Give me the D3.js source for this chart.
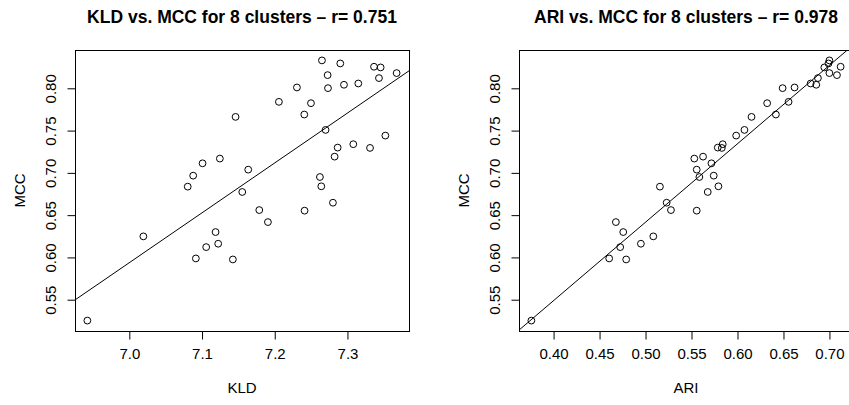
<!DOCTYPE html>
<html><head><meta charset="utf-8">
<script src="https://cdn.jsdelivr.net/npm/d3@7"></script>
<style>
html,body{margin:0;padding:0;background:#fff;}
svg{display:block;}
text{font-family:"Liberation Sans",Arial,Helvetica,sans-serif;fill:#000;}
</style></head>
<body><svg id="chart" width="849" height="405"></svg>
<script>
// MCC values (shared y variable)
const mcc = [0.5247,0.5970,0.5982,0.6116,0.6156,0.6243,0.6294,0.6412,0.6547,0.6554,0.6641,0.6768,0.6831,0.6835,0.6945,0.6961,0.7032,0.7107,0.7163,0.7186,0.7289,0.7293,0.7333,0.7435,0.7502,0.7656,0.7684,0.7818,0.7834,0.7996,0.8004,0.8036,0.8051,0.8115,0.8150,0.8174,0.8241,0.8249,0.8288,0.8324];
// KLD values
const kld = [6.943,7.1431,7.0922,7.1064,7.1229,7.020,7.1193,7.1913,7.2417,7.1794,7.2807,7.156,7.081,7.2647,7.2628,7.0885,7.1642,7.1014,7.1252,7.2830,7.3317,7.2872,7.3087,7.3528,7.2706,7.1468,7.2413,7.2505,7.2064,7.2739,7.2312,7.2959,7.3156,7.3440,7.2734,7.3683,7.3463,7.3372,7.2908,7.2656];
// ARI values
const ari = [0.3764,0.4795,0.4610,0.4730,0.4955,0.5090,0.4763,0.4683,0.5562,0.5282,0.5235,0.5682,0.5162,0.5798,0.5591,0.5747,0.5562,0.5722,0.5536,0.5631,0.5835,0.5791,0.5845,0.5991,0.6081,0.6158,0.6423,0.6328,0.6561,0.6496,0.6626,0.6862,0.6801,0.6880,0.7087,0.7005,0.6950,0.7127,0.6995,0.7005];

const kldTicks = [7.0,7.1,7.2,7.3];
const ariTicks = [0.40,0.45,0.50,0.55,0.60,0.65,0.70];
const mccTicks = [0.55,0.60,0.65,0.70,0.75,0.80];

const titles = ["KLD vs. MCC for 8 clusters \u2013 r= 0.751", "ARI vs. MCC for 8 clusters \u2013 r= 0.978"];
const xLabels = ["KLD","ARI"];
const yLabel = "MCC";

const svg = d3.select("#chart");

function rExt(arr){ const e = d3.extent(arr); const p = (e[1]-e[0])*0.04; return [e[0]-p, e[1]+p]; }
function lm(xs, ys){
  const mx = d3.mean(xs), my = d3.mean(ys);
  let sxy=0, sxx=0;
  xs.forEach((x,i)=>{ sxy += (x-mx)*(ys[i]-my); sxx += (x-mx)*(x-mx); });
  const b = sxy/sxx; return {a: my - b*mx, b};
}

const panels = [
  {xs: kld, xt: kldTicks, fmt: d3.format(".1f"), left: 75, right: 409},
  {xs: ari, xt: ariTicks, fmt: d3.format(".2f"), left: 519, right: 853}
];
const plotTop = 50, plotBottom = 331;

panels.forEach((p, k) => {
  const x = d3.scaleLinear().domain(rExt(p.xs)).range([p.left, p.right]);
  const y = d3.scaleLinear().domain(rExt(mcc)).range([plotBottom, plotTop]);
  const g = svg.append("g");
  const cid = "clip"+k;
  svg.append("clipPath").attr("id", cid).append("rect")
    .attr("x", p.left).attr("y", plotTop).attr("width", p.right-p.left).attr("height", plotBottom-plotTop);

  // regression line
  const fit = lm(p.xs, mcc);
  const xd = x.domain();
  g.append("line").attr("clip-path", `url(#${cid})`)
    .attr("x1", x(xd[0])).attr("y1", y(fit.a + fit.b*xd[0]))
    .attr("x2", x(xd[1])).attr("y2", y(fit.a + fit.b*xd[1]))
    .attr("stroke", "#000").attr("stroke-width", 1);

  // points
  g.selectAll("circle").data(p.xs).join("circle")
    .attr("cx", d => x(d)).attr("cy", (d,i) => y(mcc[i]))
    .attr("r", 3.4).attr("fill", "none").attr("stroke", "#000").attr("stroke-width", 1);

  // box
  g.append("rect").attr("x", p.left+0.5).attr("y", plotTop+0.5)
    .attr("width", p.right-p.left).attr("height", plotBottom-plotTop)
    .attr("fill", "none").attr("stroke", "#000").attr("stroke-width", 1);

  // x axis
  const xa = g.append("g").attr("transform", `translate(0.5,${plotBottom+0.5})`)
    .call(d3.axisBottom(x).tickValues(p.xt).tickFormat(p.fmt).tickSize(8).tickPadding(6));
  xa.select(".domain").attr("d", `M${x(p.xt[0])},0H${x(p.xt[p.xt.length-1])}`);
  xa.selectAll("text").attr("font-size", 15).attr("font-family", null).attr("dy", null).attr("y", 27);

  // y axis
  const ya = g.append("g").attr("transform", `translate(${p.left+0.5},0.5)`)
    .call(d3.axisLeft(y).tickValues(mccTicks).tickFormat(d3.format(".2f")).tickSize(8));
  ya.select(".domain").attr("d", `M0,${y(mccTicks[0])}V${y(mccTicks[mccTicks.length-1])}`);
  ya.selectAll(".tick text").attr("font-size", 15).attr("font-family", null)
    .attr("x", null).attr("dy", null).attr("text-anchor", "middle")
    .attr("transform", "translate(-20,0) rotate(-90)");

  // labels
  svg.append("text").attr("x", (p.left+p.right)/2).attr("y", 23).attr("text-anchor","middle")
    .attr("font-size", 17.5).attr("font-weight","bold").text(titles[k]);
  svg.append("text").attr("x", (p.left+p.right)/2).attr("y", 393).attr("text-anchor","middle")
    .attr("font-size", 15).text(xLabels[k]);
  svg.append("text").attr("transform", `translate(${p.left-50},${(plotTop+plotBottom)/2}) rotate(-90)`)
    .attr("text-anchor","middle").attr("font-size", 15).text(yLabel);
});
</script></body></html>
